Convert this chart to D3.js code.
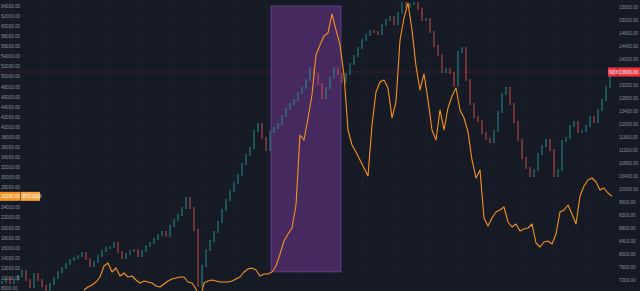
<!DOCTYPE html>
<html>
<head>
<meta charset="utf-8">
<script src="https://cdn.jsdelivr.net/npm/d3@7"></script>
<style>
    html, body { margin: 0; padding: 0; background: #161a25; overflow: hidden; }
    svg { display: block; }
    .axis text { font-family: "Liberation Sans", Arial, sans-serif; font-size: 4.6px; fill: #8a8e9a; }
    .lbl { font-family: "Liberation Sans", Arial, sans-serif; font-size: 4.6px; fill: #ffffff; }
</style>
</head>
<body>
<div id="chart"></div>
<script>
// candle closes (right scale), one every period
var candleCloses = [
    7138, 7231, 7108, 7200, 7323, 7477, 7200, 6985, 7385, 7200,
    7015, 6892, 7077, 7262, 7446, 7569, 7692, 7815, 7877, 7938,
    8031, 7846, 7631, 7754, 7938, 8092, 8185, 8215, 8338, 8062,
    7877, 8000, 8092, 8123, 7938, 8092, 8246, 8338, 8462, 8585,
    8677, 8554, 8862, 9046, 9200, 9415, 9723, 9415, 8738, 7015,
    7631, 8123, 8400, 8677, 8985, 9354, 9662, 9938, 10185, 10431,
    10769, 11046, 11262, 11785, 12000, 11569, 11200, 11754, 11877, 12000,
    12246, 12462, 12615, 12738, 12954, 13108, 13354, 13723, 13538, 13231,
    12800, 13108, 13415, 13723, 13538, 13292, 13538, 13846, 14092, 14338,
    14585, 14738, 14862, 14831, 14769, 15046, 15200, 15292, 15077, 15415,
    15723, 15600, 15692, 15723, 15538, 15200, 15231, 14831, 14400, 14123,
    13600, 13692, 13569, 13169, 14215, 14338, 13354, 12615, 12215, 12092,
    11723, 11538, 11446, 11785, 12369, 12923, 13108, 12615, 12062, 11508,
    10954, 10646, 10400, 10585, 11077, 11323, 11508, 11200, 10400, 10585,
    11477, 11569, 11938, 12062, 11754, 11785, 11938, 12215, 12062, 12431,
    12738, 13138, 13600
];

// overlay line (left scale), starts at period 21
var lineStart = 21;
var lineValues = [
    7600,
    8199, 8596, 9192, 10185, 12369, 12965, 11178, 11972, 10383, 10979,
    10185, 10383, 9589, 8993, 9390, 9192, 8993, 8397, 8199, 8794,
    9390, 9787, 9986, 10185, 10185, 9192, 8993, 7801, 5617, 8993,
    9390, 9589, 9390, 9192, 9192, 9192, 9390, 9787, 10185, 11178,
    11773, 11972, 11575, 10383, 10780, 10780, 11178, 12369, 14752, 17334,
    18724, 19916, 24484, 38386, 37393, 41762, 46330, 54274, 56260, 58047,
    58643, 62416, 59239, 56260, 50302, 39379, 36400, 35010, 33421, 31832,
    30244, 40372, 46926, 48912, 49309, 47720, 41762, 44940, 57253, 61622,
    64601, 59239, 52089, 47323, 50500, 45337, 39379, 37393, 43351, 39379,
    43748, 46131, 47720, 43351, 41762, 38982, 33421, 29846, 31435, 21902,
    20313, 21902, 23094, 23491, 24087, 21108, 20115, 20710, 19320, 19717,
    19916, 20710, 16937, 16143, 17136, 17334, 16738, 18724, 23094, 23491,
    24484, 22696, 20710, 26271, 28257, 29449, 29846, 29052, 27463, 27860,
    26867, 26200
];

var leftTicks = [8000, 10000, 12000, 14000, 16000, 18000, 20000, 22000, 24000, 26000,
    28000, 30000, 32000, 34000, 36000, 38000, 40000, 42000, 44000, 46000,
    48000, 50000, 52000, 54000, 56000, 58000, 60000, 62000, 64000];
var rightTicks = [7200, 7600, 8000, 8400, 8800, 9200, 9600, 10000, 10400, 10800,
    11200, 11600, 12000, 12400, 12800, 13200, 13600, 14000, 14400, 14800,
    15200, 15600];

// highlighted rectangle: periods and left-scale values
var boxPeriods = [67.75, 85.25];
var boxValues = [11200, 64000];

var candleSymbol = "NDX";
var lineSymbol = "BTCUSD";

var width = 640, height = 291;

var svg = d3.select("#chart").append("svg")
        .attr("width", width)
        .attr("height", height);

svg.append("rect")
        .attr("width", width)
        .attr("height", height)
        .attr("fill", "#161a25");

var x = d3.scaleLinear().domain([0, 160]).range([0, 640]);
var yRight = d3.scaleLinear().domain([7200, 15600]).range([280, 7]);
var yLeft = d3.scaleLinear().domain([8000, 64000]).range([288, 6]);

svg.append("clipPath").attr("id", "plot")
        .append("rect").attr("width", 616).attr("height", height);

// grid
var grid = svg.append("g").attr("clip-path", "url(#plot)");
grid.selectAll(".vg").data(d3.range(10.75, 160, 8)).enter().append("line")
        .attr("x1", function (d) { return x(d); })
        .attr("x2", function (d) { return x(d); })
        .attr("y1", 0).attr("y2", height)
        .attr("stroke", "#202432").attr("stroke-width", 0.8);
grid.selectAll(".hg").data(rightTicks).enter().append("line")
        .attr("x1", 0).attr("x2", width)
        .attr("y1", function (d) { return yRight(d); })
        .attr("y2", function (d) { return yRight(d); })
        .attr("stroke", "#1c202c").attr("stroke-width", 0.8);

var plot = svg.append("g").attr("clip-path", "url(#plot)");

// purple box
plot.append("rect")
        .attr("x", x(boxPeriods[0]))
        .attr("y", yLeft(boxValues[1]))
        .attr("width", x(boxPeriods[1]) - x(boxPeriods[0]))
        .attr("height", yLeft(boxValues[0]) - yLeft(boxValues[1]))
        .attr("fill", "#45295f")
        .attr("stroke", "#6a4592")
        .attr("stroke-width", 0.8);

// last price line
var last = candleCloses[candleCloses.length - 1];
plot.append("line")
        .attr("x1", 0).attr("x2", width)
        .attr("y1", yRight(last)).attr("y2", yRight(last))
        .attr("stroke", "#f23645").attr("stroke-opacity", 0.35)
        .attr("stroke-dasharray", "1,1").attr("stroke-width", 0.8);

// candles
var candles = candleCloses.map(function (c, i) {
    var o = i > 0 ? candleCloses[i - 1] : c;
    return {i: i, open: o, close: c};
});

plot.selectAll(".candle").data(candles).enter().append("rect")
        .attr("class", "candle")
        .attr("x", function (d) { return x(d.i + 0.5) - 0.7; })
        .attr("width", 1.4)
        .attr("y", function (d) { return yRight(Math.max(d.open, d.close)) - 1; })
        .attr("height", function (d) {
            return Math.max(1, Math.abs(yRight(d.open) - yRight(d.close))) + 2;
        })
        .attr("fill", function (d) {
            return d.close >= d.open ? "#26a69a" : "#ef5350";
        })
        .attr("fill-opacity", 0.6);

// overlay line
var line = d3.line()
        .x(function (d, i) { return x(lineStart + i); })
        .y(function (d) { return yLeft(d); });

plot.append("path")
        .datum(lineValues)
        .attr("d", line)
        .attr("fill", "none")
        .attr("stroke", "#f7931a")
        .attr("stroke-width", 1.1)
        .attr("stroke-linejoin", "round");

// axes
var lineLast = lineValues[lineValues.length - 1];

var leftAxis = d3.axisRight(yLeft)
        .tickValues(leftTicks.filter(function (t) {
            return Math.abs(yLeft(t) - yLeft(lineLast)) > 5;
        }))
        .tickSize(0).tickPadding(1)
        .tickFormat(d3.format(".2f"));
svg.append("g").attr("class", "axis").call(leftAxis)
        .call(function (g) { g.select(".domain").remove(); });

var rightAxis = d3.axisRight(yRight)
        .tickValues(rightTicks.filter(function (t) {
            return Math.abs(yRight(t) - yRight(last)) > 5;
        }))
        .tickSize(0).tickPadding(1)
        .tickFormat(d3.format(".2f"));
svg.append("g").attr("class", "axis")
        .attr("transform", "translate(618,0)")
        .call(rightAxis)
        .call(function (g) { g.select(".domain").remove(); });

// last value labels
var ly = yLeft(lineLast);
svg.append("rect")
        .attr("x", 0).attr("y", ly - 4.5)
        .attr("width", 20.5).attr("height", 9)
        .attr("fill", "#f7931a");
svg.append("rect")
        .attr("x", 21).attr("y", ly - 4.5)
        .attr("width", 19).attr("height", 9)
        .attr("fill", "#f9a440");
svg.append("text").attr("class", "lbl")
        .attr("x", 1).attr("y", ly + 1.6)
        .text(d3.format(".2f")(lineLast));
svg.append("text").attr("class", "lbl")
        .attr("x", 22.5).attr("y", ly + 1.6)
        .text(lineSymbol);

var ry = yRight(last);
svg.append("rect")
        .attr("x", 608).attr("y", ry - 4.5)
        .attr("width", 9.5).attr("height", 9)
        .attr("fill", "#f23645");
svg.append("rect")
        .attr("x", 618).attr("y", ry - 4.5)
        .attr("width", 22).attr("height", 9)
        .attr("fill", "#f23645");
svg.append("text").attr("class", "lbl")
        .attr("x", 609).attr("y", ry + 1.6)
        .text(candleSymbol);
svg.append("text").attr("class", "lbl")
        .attr("x", 619).attr("y", ry + 1.6)
        .text(d3.format(".2f")(last));
</script>
</body>
</html>
